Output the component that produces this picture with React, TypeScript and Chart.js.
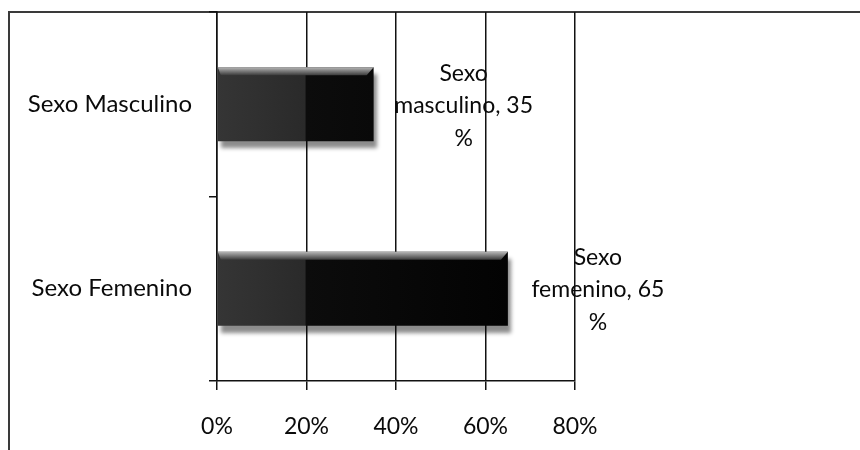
import React, { useEffect, useRef } from "react";
import { Chart, registerables } from "chart.js";
Chart.register(...registerables);

const categories = ["Sexo Masculino", "Sexo Femenino"];
const values = [35, 65];
const labelNames = ["Sexo masculino", "Sexo femenino"];
const xMin = 0;
const xMax = 80;
const xStep = 20;

const FONT = "Lato, 'Open Sans', sans-serif";
const FSIZE = 23;

export default function App() {
  const ref = useRef<HTMLCanvasElement>(null);
  useEffect(() => {
    if (!ref.current) return;
    const framePlugin = {
      id: "frame",
      beforeDraw(chart: any) {
        const c = chart.ctx;
        c.save();
        c.fillStyle = "#ffffff";
        c.fillRect(0, 0, chart.width, chart.height);
        c.strokeStyle = "#3a3a3a";
        c.lineWidth = 2;
        c.beginPath();
        c.moveTo(9, chart.height);
        c.lineTo(9, 12);
        c.lineTo(chart.width, 12);
        c.stroke();
        c.restore();
      },
    };
    const shadowPlugin = {
      id: "shadow",
      beforeDatasetDraw(chart: any) {
        const c = chart.ctx;
        c.save();
        c.shadowColor = "rgba(0,0,0,0.45)";
        c.shadowOffsetX = 3;
        c.shadowOffsetY = 7;
        c.shadowBlur = 4;
      },
      afterDatasetDraw(chart: any) {
        chart.ctx.restore();
      },
    };
    const decoPlugin = {
      id: "deco",
      afterDatasetsDraw(chart: any) {
        const c = chart.ctx;
        const meta = chart.getDatasetMeta(0);
        meta.data.forEach((el: any, i: number) => {
          const top = el.y - el.height / 2;
          const x0 = Math.min(el.base, el.x);
          const x1 = Math.max(el.base, el.x);
          // top bevel
          c.save();
          const g = c.createLinearGradient(0, top, 0, top + 8);
          g.addColorStop(0, "#b5b5b5");
          g.addColorStop(1, "#3a3a3a");
          c.fillStyle = g;
          c.beginPath();
          c.moveTo(x0, top);
          c.lineTo(x1, top);
          c.lineTo(x1 - 7, top + 8);
          c.lineTo(x0 + 3, top + 8);
          c.closePath();
          c.fill();
          c.restore();
          // data label
          const name = labelNames[i];
          const sp = name.indexOf(" ");
          const lines = [name.slice(0, sp), name.slice(sp + 1) + ", " + values[i], "%"];
          c.save();
          c.fillStyle = "#0a0a0a";
          c.font = FSIZE + "px " + FONT;
          c.textAlign = "center";
          c.textBaseline = "middle";
          const cx = x1 + 90;
          const offs = [-31, 1, 34];
          lines.forEach((t, k) => c.fillText(t, cx, el.y + offs[k]));
          c.restore();
        });
      },
    };
    const chart = new Chart(ref.current, {
      type: "bar",
      data: {
        labels: categories,
        datasets: [
          {
            data: values,
            backgroundColor: (ctx: any) => {
              const ch = ctx.chart;
              const xs = ch.scales.x;
              if (!xs || !ch.chartArea) return "#111";
              const p0 = xs.getPixelForValue(xMin);
              const p1 = xs.getPixelForValue(xMax);
              const g = ch.ctx.createLinearGradient(p0, 0, p1, 0);
              g.addColorStop(0, "#353535");
              g.addColorStop(0.245, "#2a2a2a");
              g.addColorStop(0.25, "#0c0c0c");
              g.addColorStop(1, "#000000");
              return g;
            },
            borderWidth: 0,
            categoryPercentage: 1,
            barPercentage: 0.4,
          },
        ],
      },
      options: {
        indexAxis: "y",
        responsive: false,
        animation: false,
        layout: { padding: { left: 0, top: 12, right: 285, bottom: 0 } },
        plugins: { legend: { display: false }, tooltip: { enabled: false } },
        scales: {
          x: {
            min: xMin,
            max: xMax,
            ticks: {
              stepSize: xStep,
              callback: (v: any) => v + "%",
              color: "#0a0a0a",
              font: { family: FONT, size: FSIZE },
              padding: 23,
            },
            grid: { color: "#111", lineWidth: 1.5, tickLength: 9 },
            border: { display: true, color: "#111", width: 1.5 },
            afterFit: (s: any) => {
              s.height = 69;
              s.paddingLeft = 0;
              s.paddingRight = 0;
            },
          },
          y: {
            ticks: {
              color: "#0a0a0a",
              font: { family: FONT, size: 24 },
              padding: 17,
            },
            grid: { offset: true, drawOnChartArea: false, color: "#111", lineWidth: 1.5, tickLength: 8 },
            border: { display: true, color: "#111", width: 1.5 },
            afterFit: (s: any) => {
              s.width = 217;
              s.paddingTop = 0;
              s.paddingBottom = 0;
            },
          },
        },
      },
      plugins: [framePlugin, shadowPlugin, decoPlugin],
    });
    return () => chart.destroy();
  }, []);
  return (
    <div style={{ position: "absolute", left: 0, top: 0, width: 860, height: 450, background: "#fff" }}>
      <canvas ref={ref} width={860} height={450} />
    </div>
  );
}
